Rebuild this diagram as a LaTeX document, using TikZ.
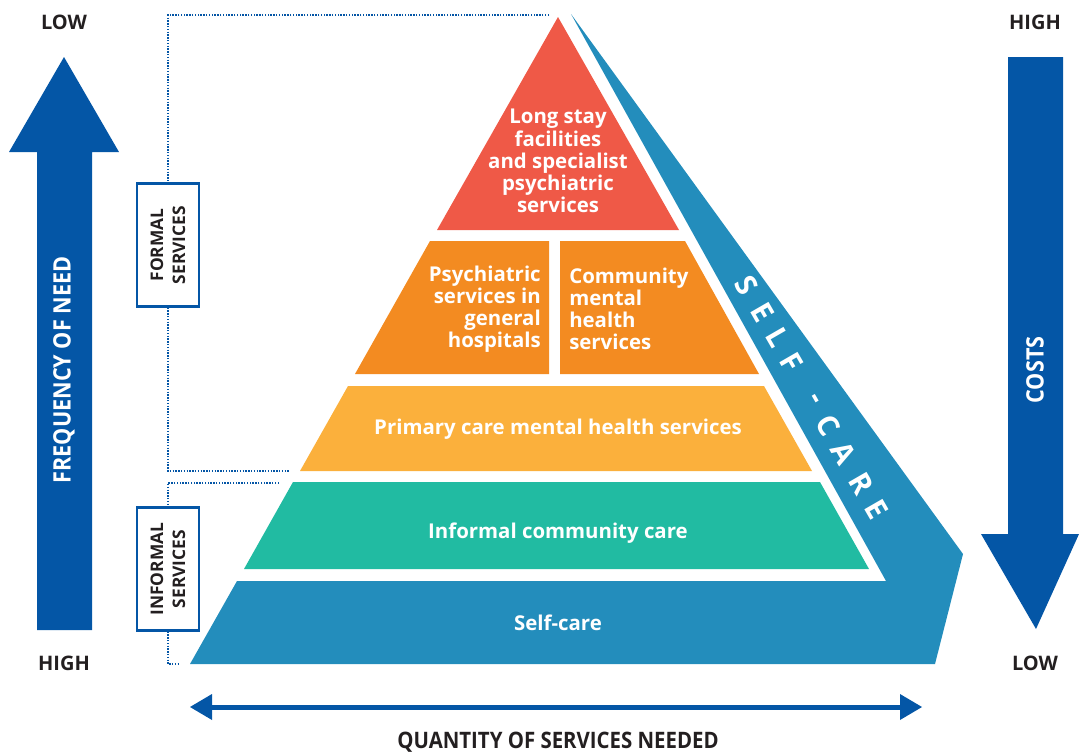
\documentclass[tikz,border=0pt]{standalone}
\usepackage{fontspec}
\setmainfont{Open Sans}
\newfontfamily\condfont{Open Sans}[FakeStretch=0.9]
\definecolor{redt}{HTML}{EF5947}
\definecolor{oranget}{HTML}{F38B21}
\definecolor{yellowt}{HTML}{FBB03C}
\definecolor{tealt}{HTML}{21BBA2}
\definecolor{bluet}{HTML}{238DBC}
\definecolor{darkb}{HTML}{0456A6}
\definecolor{txt}{HTML}{231F20}
\begin{document}
\begin{tikzpicture}[x=0.75pt,y=-0.75pt,
  tiertext/.style={text=white,font=\fontsize{15.3}{16.6}\selectfont\bfseries,inner sep=0pt},
  endlabel/.style={text=txt,font=\fontsize{15}{17}\selectfont\bfseries,inner sep=0pt},
  arrowlabel/.style={text=white,font=\condfont\fontsize{18}{20}\selectfont\bfseries,inner sep=0pt,rotate=90},
  servbox/.style={draw=darkb,line width=2.2pt*0.75,fill=white,minimum width=62*0.75pt,minimum height=123*0.75pt,inner sep=0pt},
  servtext/.style={text=txt,font=\fontsize{13}{16.5}\selectfont\bfseries,align=center,rotate=90},
  guide/.style={draw=darkb,line width=1.1pt,densely dotted},
  bandletter/.style={text=white,font=\fontsize{22}{22}\selectfont\bfseries,inner sep=0pt,rotate=-60}
]
\useasboundingbox (0,0) rectangle (1079,754);

% ---- blue self-care band + base ----
\fill[bluet] (190,664) -- (237,581) -- (886,581) -- (571,14) -- (963,554) -- (935,664) -- cycle;

% ---- tiers ----
\fill[redt] (558,17) -- (437,230) -- (679,230) -- cycle;
\fill[oranget] (430,241) -- (549,241) -- (549,374) -- (355,374) -- cycle;
\fill[oranget] (560,241) -- (685,241) -- (759,374) -- (560,374) -- cycle;
\fill[yellowt] (348,386) -- (764,386) -- (812,471) -- (300,471) -- cycle;
\fill[tealt] (293,482) -- (820,482) -- (869,569) -- (244,569) -- cycle;

% ---- tier texts ----
\node[tiertext,align=center] (longstay) at (558,161) {Long stay\\facilities\\and specialist\\psychiatric\\services};
\node[tiertext,align=right,anchor=east] (psych) at (541,309) {Psychiatric\\services in\\general\\hospitals};
\node[tiertext,align=left,anchor=west] (cmhs) at (569,309) {Community\\mental\\health\\services};
\node[tiertext] (primary) at (558,429) {Primary care mental health services};
\node[tiertext] (informal) at (558,533) {Informal community care};
\node[tiertext] (selfcare) at (558,623) {Self-care};

% ---- SELF-CARE along band ----
\foreach \ch/\t [count=\i] in {S/0,E/32,L/61,F/89,-/133,C/162,A/194,R/229,E/259}
  \node[bandletter] (band\i) at ({747+0.5*\t},{285+0.866*\t}) {\ch};

% ---- left arrow: frequency of need ----
\fill[darkb] (37,630) -- (37,152) -- (9,152) -- (64,57) -- (119,152) -- (92,152) -- (92,630) -- cycle;
\node[arrowlabel] (freq) at (64,370) {FREQUENCY OF NEED};
\node[endlabel] (lowL) at (64,22) {LOW};
\node[endlabel] (highL) at (64,663) {HIGH};

% ---- right arrow: costs ----
\fill[darkb] (1008,57) -- (1063,57) -- (1063,534) -- (1079,534) -- (1036,629) -- (981,534) -- (1008,534) -- cycle;
\node[arrowlabel] (costs) at (1035,370) {COSTS};
\node[endlabel] (highR) at (1035,22) {HIGH};
\node[endlabel] (lowR) at (1035,663) {LOW};

% ---- bottom double arrow ----
\coordinate (qL) at (190,707);
\coordinate (qR) at (922,707);
\draw[darkb,line width=5*0.75pt] (210,707) -- (902,707);
\fill[darkb] (qL) -- (212,694) -- (212,720) -- cycle;
\fill[darkb] (qR) -- (900,694) -- (900,720) -- cycle;
\node[text=txt,font=\condfont\fontsize{17}{19}\selectfont\bfseries,inner sep=0pt] (qty) at (558,742) {QUANTITY OF SERVICES NEEDED};

% ---- service boxes ----
\node[servbox] (formal) at (168,245) {};
\node[servtext] (formalt) at (168,245) {FORMAL\\SERVICES};
\node[servbox] (informalb) at (168,569) {};
\node[servtext] (informalt) at (168,569) {INFORMAL\\SERVICES};

% ---- dotted guides ----
\coordinate (fTop) at (549,15);
\coordinate (fBot) at (289,471);
\coordinate (iTop) at (279,483);
\coordinate (iBot) at (179,664);
\draw[guide] (fTop) -- (168,15) -- (formal.north);
\draw[guide] (formal.south) -- (168,471) -- (fBot);
\draw[guide] (iTop) -- (168,483) -- (informalb.north);
\draw[guide] (informalb.south) -- (168,664) -- (iBot);
\end{tikzpicture}
\end{document}
